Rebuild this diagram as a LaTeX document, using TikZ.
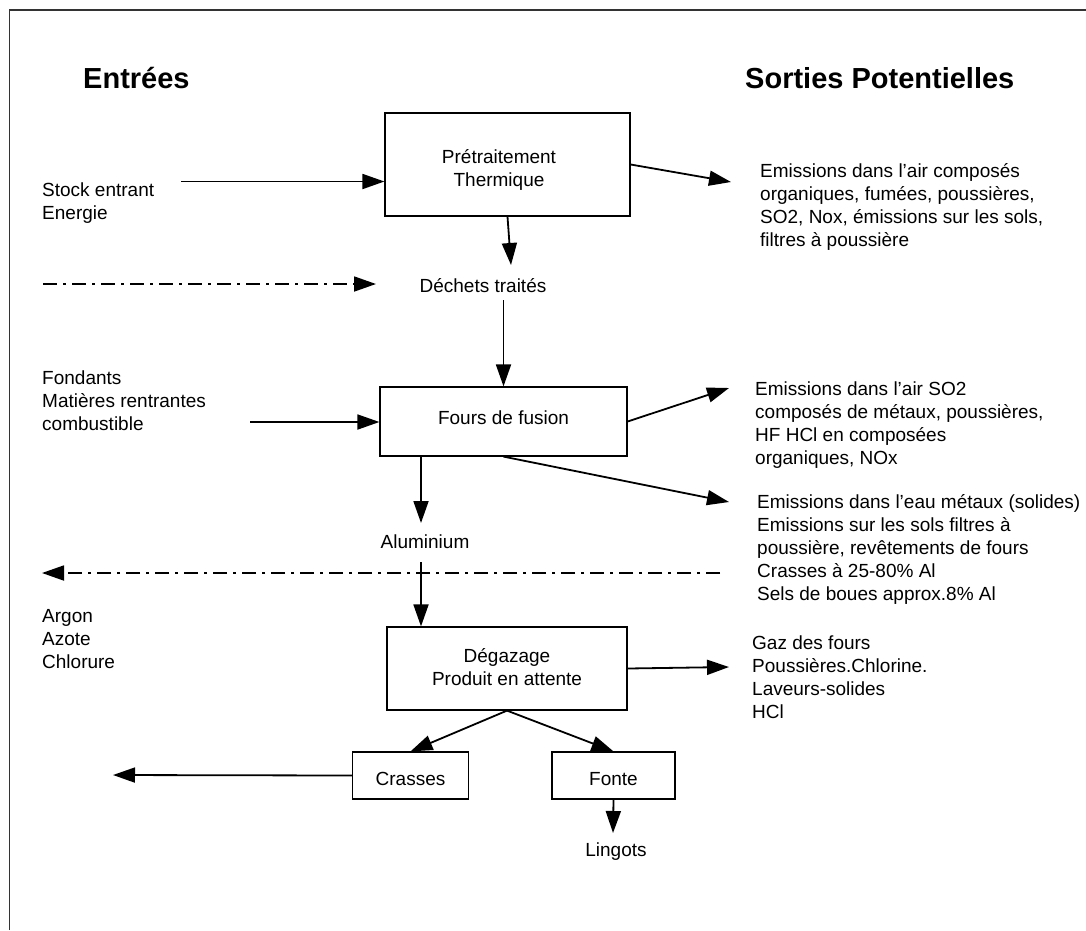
\documentclass[tikz,border=0pt]{standalone}
\usepackage{fontspec}
\setmainfont{Liberation Sans}
\usetikzlibrary{arrows.meta,calc}
\begin{document}
\begin{tikzpicture}[x=1pt,y=-1pt,
  font=\fontsize{19}{23}\selectfont,
  box/.style={draw, line width=1.2pt, inner sep=0pt, align=center},
  txt/.style={inner sep=0pt, anchor=base west, align=left},
  ctxt/.style={inner sep=0pt, anchor=base},
  arr/.style={line width=1.8pt, -{Triangle[length=22pt,width=15pt]}},
  dd/.style={dash pattern=on 14pt off 6pt on 3pt off 6pt},
  ttl/.style={inner sep=0pt, anchor=base west, font=\bfseries\fontsize{29}{34}\selectfont}]
\useasboundingbox (0,0) rectangle (1086,930);
\draw[line width=1.5pt, black!80] (9.5,930) -- (9.5,10) -- (1086,10);

\node[ttl] (entrees) at (83,88) {Entrées};
\node[ttl] (sorties) at (745,88) {Sorties Potentielles};

\node[box, minimum width=245pt, minimum height=103pt] (pret) at (507.5,164.5) {};
\node[txt, anchor=base, align=center] (pretT) at (499,186) {Prétraitement\\Thermique};
\node[box, minimum width=247pt, minimum height=69pt, text depth=8pt] (fours) at (503.5,421.5) {Fours de fusion};
\node[box, minimum width=240pt, minimum height=83pt] (degaz) at (507,668.5) {};
\node[txt, anchor=base, align=center] (degazT) at (507,685) {Dégazage\\Produit en attente};
\node[box, minimum width=116pt, minimum height=47pt, text height=23pt, text depth=4pt] (crasses) at (410.5,775.5) {Crasses};
\node[box, minimum width=123pt, minimum height=47pt, text height=23pt, text depth=4pt] (fonte) at (613.5,775.5) {Fonte};

\node[txt] (stock) at (42,219) {Stock entrant\\Energie};
\node[txt] (emis1) at (760,246) {Emissions dans l’air composés\\organiques, fumées, poussières,\\SO2, Nox, émissions sur les sols,\\filtres à poussière};
\node[ctxt] (dechets) at (483,292) {Déchets traités};
\node[txt] (fondants) at (42,430) {Fondants\\Matières rentrantes\\combustible};
\node[txt] (emis2) at (755,464) {Emissions dans l’air SO2\\composés de métaux, poussières,\\HF HCl en composées\\organiques, NOx};
\node[txt] (emis3) at (757,600) {Emissions dans l’eau métaux (solides)\\Emissions sur les sols filtres à\\poussière, revêtements de fours\\Crasses à 25-80\% Al\\Sels de boues approx.8\% Al};
\node[ctxt] (alu) at (425,548) {Aluminium};
\node[txt] (argon) at (42,668) {Argon\\Azote\\Chlorure};
\node[txt] (gaz) at (752,718) {Gaz des fours\\Poussières.Chlorine.\\Laveurs-solides\\HCl};
\node[ctxt] (lingots) at (616,856) {Lingots};

\coordinate (a1) at (181,181.5);
\draw[arr] (a1) -- (a1 -| pret.west);
\coordinate (a2) at (731,182);
\draw[arr] (pret.east) -- (a2);
\coordinate (a3) at (511,265);
\draw[arr] (pret.south) -- (a3);
\coordinate (a4) at (43,284);
\coordinate (a4e) at (376,284);
\draw[arr,dd] (a4) -- (a4e);
\coordinate (a5) at (503.5,300);
\draw[arr] (a5) -- (a5 |- fours.north);
\coordinate (a6) at (250,422);
\draw[arr] (a6) -- (a6 -| fours.west);
\coordinate (a7) at (729,388);
\draw[arr] (fours.east) -- (a7);
\coordinate (a8) at (729,502);
\draw[arr] (fours.south) -- (a8);
\coordinate (a9) at (421,523);
\draw[arr] (a9 |- fours.south) -- (a9);
\coordinate (a10) at (720,573);
\coordinate (a10e) at (42,573);
\draw[arr,dd] (a10) -- (a10e);
\coordinate (a11) at (421,562);
\draw[arr] (a11) -- (a11 |- degaz.north);
\coordinate (a12) at (729,667);
\draw[arr] (degaz.east) -- (a12);
\draw[arr] (degaz.south) -- (crasses.north);
\draw[arr] (degaz.south) -- (fonte.north);
\coordinate (a13) at (113,775);
\draw[arr] (crasses.west) -- (a13);
\coordinate (a14) at (613,833);
\draw[arr] (fonte.south) -- (a14);
\end{tikzpicture}
\end{document}
